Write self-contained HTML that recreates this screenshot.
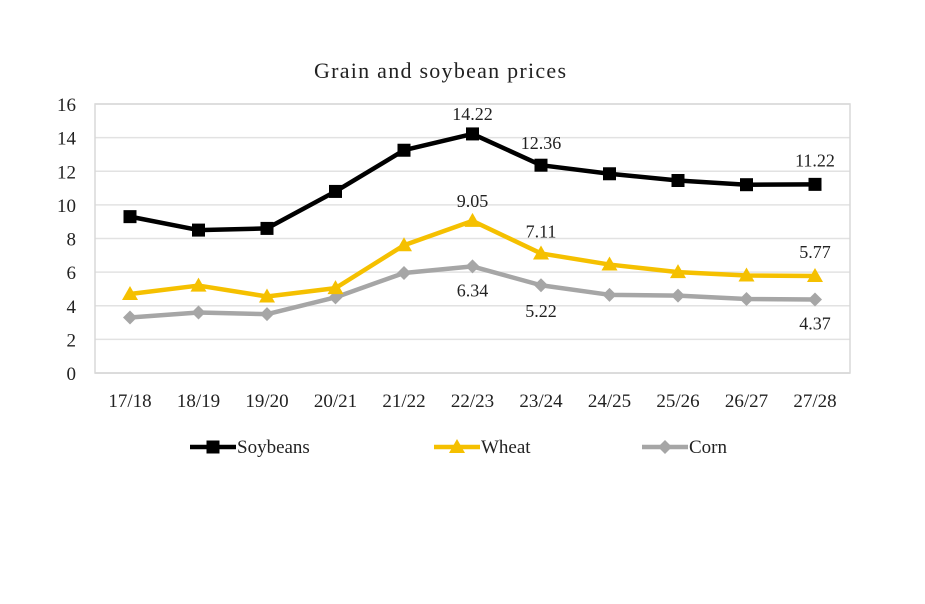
<!DOCTYPE html>
<html><head><meta charset="utf-8"><style>
body{margin:0;background:#fff;}
svg text{font-family:"Liberation Serif",serif;fill:#222;}
</style></head><body>
<svg id="chart" width="925" height="599" viewBox="0 0 925 599">
<text x="440" y="78" font-size="22" text-anchor="middle" textLength="252">Grain and soybean prices</text>
<g id="grid"></g><g id="axes"></g><g id="series"></g><g id="labels"></g><g id="legend"></g>
</svg>
<script>
const categories=["17/18","18/19","19/20","20/21","21/22","22/23","23/24","24/25","25/26","26/27","27/28"];
const soybeans=[9.3,8.5,8.6,10.8,13.25,14.22,12.36,11.85,11.45,11.2,11.22];
const wheat=[4.7,5.2,4.55,5.05,7.6,9.05,7.11,6.45,6.0,5.8,5.77];
const corn=[3.3,3.6,3.5,4.5,5.95,6.34,5.22,4.65,4.6,4.4,4.37];
const yTicks=[0,2,4,6,8,10,12,14,16];
const NS="http://www.w3.org/2000/svg";
const L=95,R=850,T=104,B=373,X0=130,X1=815;
const xs=i=>X0+(X1-X0)*i/(categories.length-1);
const ys=v=>B-(B-T)*v/16;
function mk(p,tag,a){const e=document.createElementNS(NS,tag);for(const k in a)e.setAttribute(k,a[k]);document.getElementById(p).appendChild(e);return e;}
yTicks.forEach(t=>{
 const g=mk('grid','line',{x1:L,x2:R,y1:ys(t),y2:ys(t),stroke:t==0?'#ccc':'#e2e2e2','stroke-width':1.5});
 
 
 const tx=mk('axes','text',{x:76,y:ys(t)+7,'font-size':19,'text-anchor':'end'});tx.textContent=t;
 
 
});
const fr=mk('grid','rect',{x:L,y:T,width:R-L,height:B-T,fill:'none',stroke:'#d8d8d8','stroke-width':1.5});


categories.forEach((c,i)=>{const t=mk('axes','text',{x:xs(i),y:407,'font-size':19,'text-anchor':'middle'});t.textContent=c;
 
 });
function marker(p,type,x,y,col){let e;
 if(type=='sq')e=mk(p,'rect',{x:x-6.5,y:y-6.5,width:13,height:13,fill:col});
 else if(type=='tri')e=mk(p,'polygon',{points:`${x},${y-8} ${x-8},${y+6} ${x+8},${y+6}`,fill:col});
 else e=mk(p,'polygon',{points:`${x},${y-7} ${x+7},${y} ${x},${y+7} ${x-7},${y}`,fill:col});
 return e;}
function series(name,vals,col,type){
 const pl=mk('series','polyline',{points:vals.map((v,i)=>xs(i)+','+ys(v)).join(' '),fill:'none',stroke:col,'stroke-width':4.5,'stroke-linejoin':'round'});
 
 
 vals.forEach((v,i)=>{const m=marker('series',type,xs(i),ys(v),col);
  
  });
}
series('corn',corn,'#a6a6a6','dia');
series('wheat',wheat,'#f5c000','tri');
series('soybeans',soybeans,'#000','sq');
function lab(v,i,dy){const t=mk('labels','text',{x:xs(i),y:ys(v)+dy,'font-size':18,'text-anchor':'middle'});t.textContent=v.toFixed(2);
 
 }
lab(soybeans[5],5,-14);lab(soybeans[6],6,-16);lab(soybeans[10],10,-18);
lab(wheat[5],5,-14);lab(wheat[6],6,-16);lab(wheat[10],10,-18);
lab(corn[5],5,30);lab(corn[6],6,32);lab(corn[10],10,30);
[['Soybeans','#000','sq',190],['Wheat','#f5c000','tri',434],['Corn','#a6a6a6','dia',642]].forEach(([n,c,t,x])=>{
 const l=mk('legend','line',{x1:x,x2:x+46,y1:447,y2:447,stroke:c,'stroke-width':4.5});
 
 
 marker('legend',t,x+23,447,c);
 const tx=mk('legend','text',{x:x+47,y:453,'font-size':19,'font-family':'"Liberation Sans",sans-serif'});tx.textContent=n;
 
 
});
</script>
</body></html>
